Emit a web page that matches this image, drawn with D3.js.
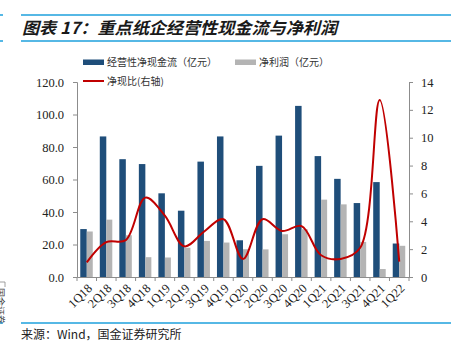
<!DOCTYPE html>
<html><head><meta charset="utf-8">
<script src="https://cdn.jsdelivr.net/npm/d3@7"></script>
<style>
html,body{margin:0;padding:0;background:#fff;}
svg{display:block;}
</style></head>
<body>
<svg id="c" width="451" height="342"></svg>
<script>
const categories = ["1Q18","2Q18","3Q18","4Q18","1Q19","2Q19","3Q19","4Q19","1Q20","2Q20","3Q20","4Q20","1Q21","2Q21","3Q21","4Q21","1Q22"];
const cashflow = [29.5, 86.5, 72.5, 69.5, 51.5, 40.8, 71.0, 86.5, 22.6, 68.4, 87.0, 105.3, 74.4, 60.4, 45.5, 58.4, 20.6];
const netProfit = [28.0, 35.3, 25.7, 12.2, 12.0, 18.0, 22.2, 21.2, 17.1, 17.0, 26.3, 29.4, 47.6, 44.7, 21.6, 4.9, 19.2];
const ratio = [1.05, 2.5, 2.65, 5.7, 4.4, 2.2, 3.25, 4.15, 1.3, 4.15, 3.3, 3.65, 1.56, 1.3, 2.1, 12.7, 1.1];
const leftTicks = [0, 20, 40, 60, 80, 100, 120];
const rightTicks = [0, 2, 4, 6, 8, 10, 12, 14];
const title = "图表 17：重点纸企经营性现金流与净利润";
const legendLabels = ["经营性净现金流（亿元）", "净利润（亿元）", "净现比(右轴)"];
const source = "来源：Wind，国金证券研究所";

const svg = d3.select("#c");
const blue = "#1f4e7a", gray = "#b4b4b4", red = "#c00000", rule = "#1ea0dc", axisC = "#8c8c8c";
const cjk = "'Noto Sans CJK SC', sans-serif";
const serif = "'Liberation Serif', 'Times New Roman', serif";

// header / footer rules
[15, 41, 323].forEach(y => {
  svg.append("line").attr("x1", 21).attr("x2", 451).attr("y1", y).attr("y2", y).attr("stroke", rule).attr("stroke-width", 1.5);
  svg.append("line").attr("x1", 0).attr("x2", 3).attr("y1", y).attr("y2", y).attr("stroke", rule).attr("stroke-width", 1.5);
});

svg.append("text").attr("x", 22).attr("y", 34).text(title)
  .attr("font-family", cjk).attr("font-size", 16.5).attr("font-weight", "bold").attr("font-style", "italic")
  .attr("fill", "#1a1a1a").attr("textLength", 315).attr("lengthAdjust", "spacingAndGlyphs");

const x = d3.scaleBand().domain(categories).range([77, 409]).padding(0);
const yL = d3.scaleLinear().domain([0, 120]).range([277, 82]);
const yR = d3.scaleLinear().domain([0, 14]).range([277, 82]);
const bw = 6.5;

const g = svg.append("g");
g.selectAll(".cf").data(categories).join("rect")
  .attr("x", (d) => x(d) + x.bandwidth()/2 - bw)
  .attr("y", (d, i) => yL(cashflow[i])).attr("width", bw)
  .attr("height", (d, i) => yL(0) - yL(cashflow[i])).attr("fill", blue);
g.selectAll(".np").data(categories).join("rect")
  .attr("x", (d) => x(d) + x.bandwidth()/2)
  .attr("y", (d, i) => yL(netProfit[i])).attr("width", bw - 0.5)
  .attr("height", (d, i) => yL(0) - yL(netProfit[i])).attr("fill", gray);

// axes
const axL = svg.append("g").attr("transform", "translate(77,0)")
  .call(d3.axisLeft(yL).tickValues(leftTicks).tickFormat(d3.format(".1f")).tickSizeOuter(0).tickSize(4).tickPadding(9));
const axR = svg.append("g").attr("transform", "translate(409,0)")
  .call(d3.axisRight(yR).tickValues(rightTicks).tickFormat(d3.format("d")).tickSizeOuter(0).tickSize(4).tickPadding(8));
[axL, axR].forEach(a => {
  a.select(".domain").attr("stroke", axisC);
  a.selectAll(".tick line").attr("stroke", axisC);
  a.selectAll("text").attr("font-family", serif).attr("font-size", 12.5).attr("fill", "#222");
});

const axB = svg.append("g").attr("transform", "translate(0,277)")
  .call(d3.axisBottom(x).tickSize(0).tickSizeOuter(0).tickFormat(""));
axB.select(".domain").attr("stroke", axisC);
axB.selectAll(".tick").remove();
// boundary ticks
const bounds = categories.map(c => x(c)).concat([x.range()[1]]);
svg.append("g").selectAll("line").data(bounds).join("line")
  .attr("x1", d => d).attr("x2", d => d).attr("y1", 277).attr("y2", 281).attr("stroke", axisC);
svg.append("g").selectAll("text").data(categories).join("text")
  .attr("transform", d => `translate(${x(d) + x.bandwidth()/2 + 3},${286}) rotate(-45)`)
  .attr("text-anchor", "end").attr("dy", "0.35em")
  .attr("font-family", serif).attr("font-size", 12.5).attr("fill", "#222").text(d => d);

// ratio line
const line = d3.line().x((d, i) => x(categories[i]) + x.bandwidth()/2).y(d => yR(d)).curve(d3.curveCatmullRom.alpha(0.5));
svg.append("path").datum(ratio).attr("d", line).attr("fill", "none").attr("stroke", red).attr("stroke-width", 2);

// legend
const lg = svg.append("g");
lg.append("rect").attr("x", 83).attr("y", 59.5).attr("width", 21).attr("height", 5.5).attr("fill", blue);
lg.append("text").attr("x", 107).attr("y", 62.5).attr("dy", "0.35em").text(legendLabels[0]);
lg.append("rect").attr("x", 235).attr("y", 59.5).attr("width", 21).attr("height", 5.5).attr("fill", gray);
lg.append("text").attr("x", 259).attr("y", 62.5).attr("dy", "0.35em").text(legendLabels[1]);
lg.append("line").attr("x1", 83).attr("x2", 104).attr("y1", 81).attr("y2", 81).attr("stroke", red).attr("stroke-width", 2);
lg.append("text").attr("x", 107).attr("y", 81).attr("dy", "0.35em").text(legendLabels[2]);
lg.selectAll("text").attr("font-family", cjk).attr("font-size", 10).attr("fill", "#333");

// source
svg.append("text").attr("x", 21).attr("y", 335).attr("dy", "0.35em").text(source)
  .attr("font-family", cjk).attr("font-size", 12).attr("fill", "#222");

// cut-off side label on the left edge (as in the reference)
svg.append("text").attr("transform", "translate(-3,288) rotate(90)").text("国金证券")
  .attr("font-family", cjk).attr("font-size", 9).attr("fill", "#444");
svg.append("path").attr("d", "M0,282 H5 V287").attr("fill", "none").attr("stroke", "#888").attr("stroke-width", 0.8);
</script>
</body></html>
